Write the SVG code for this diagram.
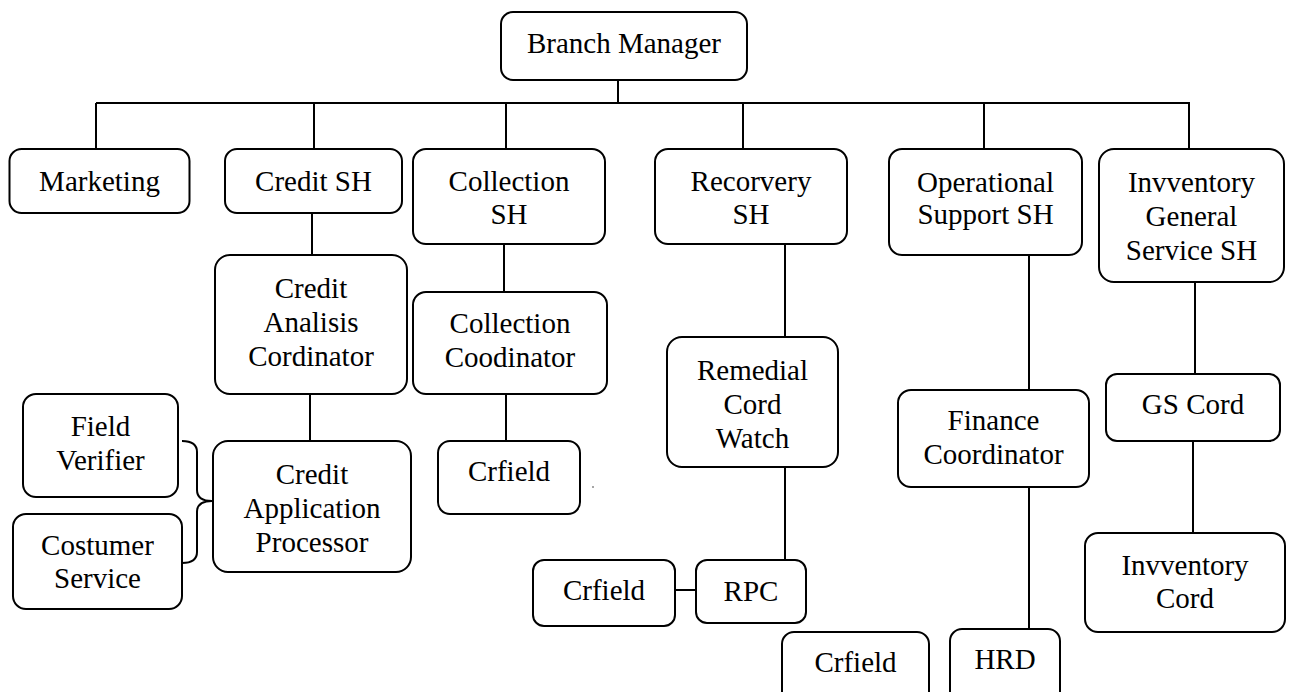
<svg xmlns="http://www.w3.org/2000/svg" width="1290" height="692" viewBox="0 0 1290 692">
<style>
.box{fill:#fff;stroke:#000;stroke-width:2}
.t{font-family:"Liberation Serif","Times New Roman",serif;font-size:29px;fill:#000;text-anchor:middle}
.c{fill:none;stroke:#000;stroke-width:2}
</style>
<rect width="1290" height="692" fill="#fff"/>
<g id="connectors" class="c">
<path d="M618 80V103M96 103H1190M96 103V149M314 103V149M506 103V149M743 103V149M984 103V149M1189 103V149"/>
<path d="M312 213V255M310 394V441"/>
<path d="M182 441Q197 441 197 452V490Q197 501 212 501M212 501Q197 501 197 512V552Q197 563 182 563"/>
<path d="M504 244V292M506 394V441"/>
<path d="M785 244V337M785 467V560M675 590H696"/>
<path d="M1029 255V390M1029 487V629"/>
<path d="M1195 282V374M1193 441V533"/>
</g>
<g id="branch-manager"><rect class="box" x="501" y="12" width="246" height="68" rx="12"/><text class="t" x="624" y="53">Branch Manager</text></g>
<g id="marketing"><rect class="box" x="9.5" y="149" width="180" height="64" rx="12"/><text class="t" x="99.5" y="191">Marketing</text></g>
<g id="credit-sh"><rect class="box" x="225" y="149" width="177" height="64" rx="12"/><text class="t" x="313.5" y="191">Credit SH</text></g>
<g id="collection-sh"><rect class="box" x="413" y="149" width="192" height="95" rx="13"/><text class="t" x="509" y="191">Collection</text><text class="t" x="509" y="224">SH</text></g>
<g id="recorvery-sh"><rect class="box" x="655" y="149" width="192" height="95" rx="13"/><text class="t" x="751" y="191">Recorvery</text><text class="t" x="751" y="224">SH</text></g>
<g id="operational-support-sh"><rect class="box" x="889" y="149" width="193" height="106" rx="13"/><text class="t" x="985.5" y="192">Operational</text><text class="t" x="985.5" y="224">Support SH</text></g>
<g id="inventory-general-service-sh"><rect class="box" x="1099" y="149" width="185" height="133" rx="15"/><text class="t" x="1191.5" y="192">Invventory</text><text class="t" x="1191.5" y="226">General</text><text class="t" x="1191.5" y="260">Service SH</text></g>
<g id="credit-analisis-cordinator"><rect class="box" x="215" y="255" width="192" height="139" rx="15"/><text class="t" x="311" y="298">Credit</text><text class="t" x="311" y="332">Analisis</text><text class="t" x="311" y="366">Cordinator</text></g>
<g id="credit-application-processor"><rect class="box" x="213" y="441" width="198" height="131" rx="15"/><text class="t" x="312" y="484">Credit</text><text class="t" x="312" y="518">Application</text><text class="t" x="312" y="552">Processor</text></g>
<g id="field-verifier"><rect class="box" x="23" y="394" width="155" height="103" rx="13"/><text class="t" x="100.5" y="436">Field</text><text class="t" x="100.5" y="470">Verifier</text></g>
<g id="costumer-service"><rect class="box" x="13" y="514" width="169" height="95" rx="13"/><text class="t" x="97.5" y="555">Costumer</text><text class="t" x="97.5" y="588">Service</text></g>
<g id="collection-coodinator"><rect class="box" x="413" y="292" width="194" height="102" rx="13"/><text class="t" x="510" y="333">Collection</text><text class="t" x="510" y="367">Coodinator</text></g>
<g id="crfield-1"><rect class="box" x="438" y="441" width="142" height="73" rx="12"/><text class="t" x="509" y="481">Crfield</text></g>
<circle cx="593" cy="487" r="1" fill="#888"/>
<g id="remedial-cord-watch"><rect class="box" x="667" y="337" width="171" height="130" rx="15"/><text class="t" x="752.5" y="380">Remedial</text><text class="t" x="752.5" y="414">Cord</text><text class="t" x="752.5" y="448">Watch</text></g>
<g id="rpc"><rect class="box" x="696" y="560" width="110" height="63" rx="11"/><text class="t" x="751" y="601">RPC</text></g>
<g id="crfield-2"><rect class="box" x="533" y="560" width="142" height="66" rx="11"/><text class="t" x="604" y="600">Crfield</text></g>
<g id="crfield-3"><rect class="box" x="782" y="632" width="147" height="72" rx="12"/><text class="t" x="855.5" y="672">Crfield</text></g>
<g id="finance-coordinator"><rect class="box" x="898" y="390" width="191" height="97" rx="13"/><text class="t" x="993.5" y="430">Finance</text><text class="t" x="993.5" y="464">Coordinator</text></g>
<g id="hrd"><rect class="box" x="950" y="629" width="110" height="75" rx="12"/><text class="t" x="1005" y="669">HRD</text></g>
<g id="gs-cord"><rect class="box" x="1106" y="374" width="174" height="67" rx="11"/><text class="t" x="1193" y="414">GS Cord</text></g>
<g id="inventory-cord"><rect class="box" x="1085" y="533" width="200" height="99" rx="13"/><text class="t" x="1185" y="575">Invventory</text><text class="t" x="1185" y="608">Cord</text></g>
</svg>
